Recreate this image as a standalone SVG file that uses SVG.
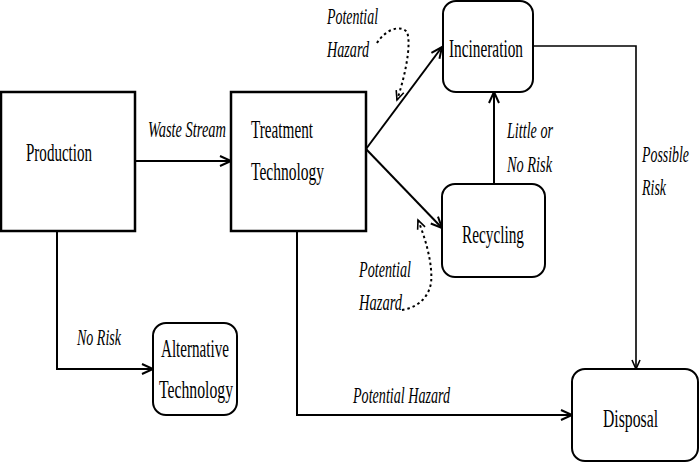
<svg xmlns="http://www.w3.org/2000/svg" width="700" height="462" viewBox="0 0 700 462">
<defs>
<marker id="arr" markerUnits="userSpaceOnUse" markerWidth="14" markerHeight="12" refX="12" refY="6" orient="auto" overflow="visible">
<path d="M1,1 L12,6 L1,11" fill="none" stroke="#000" stroke-width="2"/>
</marker>
<marker id="arrs" markerUnits="userSpaceOnUse" markerWidth="12" markerHeight="10" refX="10" refY="5" orient="auto" overflow="visible">
<path d="M1,1 L10,5 L1,9" fill="none" stroke="#000" stroke-width="1.6"/>
</marker>
</defs>
<style>
.box{fill:#fff;stroke:#000;stroke-width:2.5}
.rbox{fill:#fff;stroke:#000;stroke-width:2}
.lbl{font-family:"Liberation Serif","Times New Roman",serif;font-size:26px;fill:#000}
.it{font-family:"Liberation Serif","Times New Roman",serif;font-size:23px;font-style:italic;fill:#000}
.ln{fill:none;stroke:#000;stroke-width:2}
.dot{fill:none;stroke:#000;stroke-width:2;stroke-dasharray:2.5 3}
</style>
<rect width="700" height="462" fill="#fff"/>
<g id="connectors">
<path class="ln" d="M135,161 L231,161" marker-end="url(#arr)"/>
<path class="ln" d="M366,149 L442,47" marker-end="url(#arr)"/>
<path class="ln" d="M366,149 L442,228" marker-end="url(#arr)"/>
<path class="ln" d="M494,184 L494,92" marker-end="url(#arr)"/>
<path class="ln" style="stroke-width:1.6" d="M533,46 L636,46 L636,369" marker-end="url(#arrs)"/>
<path class="ln" d="M297,231 L297,415 L572,415" marker-end="url(#arr)"/>
<path class="ln" d="M57,231 L57,369 L153,369" marker-end="url(#arr)"/>
<path class="dot" d="M377,43 C385,30 400,24 407,32 C412,45 404,80 397,100" marker-end="url(#arrs)"/>
<path class="dot" d="M402,310 C415,308 428,300 431,283 C433,265 426,240 418,220" marker-end="url(#arrs)"/>
</g>
<g id="production">
<rect class="box" x="1" y="92" width="134" height="139"/>
<text class="lbl" x="26" y="161" textLength="66" lengthAdjust="spacingAndGlyphs">Production</text>
</g>
<g id="treatment">
<rect class="box" x="231" y="92" width="135" height="139"/>
<text class="lbl" x="251" y="138" textLength="62" lengthAdjust="spacingAndGlyphs">Treatment</text>
<text class="lbl" x="251" y="180" textLength="73" lengthAdjust="spacingAndGlyphs">Technology</text>
</g>
<g id="incineration">
<rect class="rbox" x="443" y="1" width="90" height="91" rx="13"/>
<text class="lbl" x="449" y="57" textLength="74" lengthAdjust="spacingAndGlyphs">Incineration</text>
</g>
<g id="recycling">
<rect class="rbox" x="442" y="184" width="103" height="93" rx="13"/>
<text class="lbl" x="462" y="243" textLength="62" lengthAdjust="spacingAndGlyphs">Recycling</text>
</g>
<g id="alternative">
<rect class="rbox" x="153" y="323" width="84" height="92" rx="13"/>
<text class="lbl" x="161" y="357" textLength="68" lengthAdjust="spacingAndGlyphs">Alternative</text>
<text class="lbl" x="159" y="398" textLength="74" lengthAdjust="spacingAndGlyphs">Technology</text>
</g>
<g id="disposal">
<rect class="rbox" x="572" y="369" width="126" height="92" rx="13"/>
<text class="lbl" x="603" y="427" textLength="55" lengthAdjust="spacingAndGlyphs">Disposal</text>
</g>
<g id="labels">
<text class="it" x="148" y="137" textLength="78" lengthAdjust="spacingAndGlyphs">Waste Stream</text>
<text class="it" x="327" y="24" textLength="51" lengthAdjust="spacingAndGlyphs">Potential</text>
<text class="it" x="327" y="57" textLength="42" lengthAdjust="spacingAndGlyphs">Hazard</text>
<text class="it" x="359" y="277" textLength="52" lengthAdjust="spacingAndGlyphs">Potential</text>
<text class="it" x="359" y="310" textLength="43" lengthAdjust="spacingAndGlyphs">Hazard</text>
<text class="it" x="507" y="138" textLength="46" lengthAdjust="spacingAndGlyphs">Little or</text>
<text class="it" x="507" y="172" textLength="45" lengthAdjust="spacingAndGlyphs">No Risk</text>
<text class="it" x="642" y="162" textLength="47" lengthAdjust="spacingAndGlyphs">Possible</text>
<text class="it" x="642" y="195" textLength="24" lengthAdjust="spacingAndGlyphs">Risk</text>
<text class="it" x="77" y="345" textLength="44" lengthAdjust="spacingAndGlyphs">No Risk</text>
<text class="it" x="353" y="403" textLength="97" lengthAdjust="spacingAndGlyphs">Potential Hazard</text>
</g>
</svg>
